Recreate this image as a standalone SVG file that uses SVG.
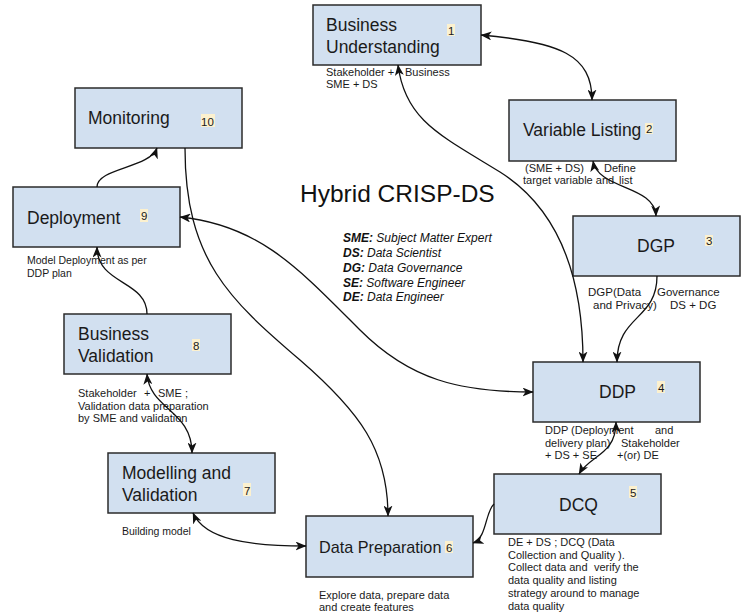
<svg xmlns="http://www.w3.org/2000/svg" width="744" height="615" viewBox="0 0 744 615">
<style>
.box{fill:#d2e0f0;stroke:#2b2b2b;stroke-width:1.5}
.t{font-family:"Liberation Sans",Arial,sans-serif;font-size:17.5px;fill:#1a1a1a}
.l{font-family:"Liberation Sans",Arial,sans-serif;font-size:11px;fill:#1a1a1a}
.n{font-family:"Liberation Sans",Arial,sans-serif;font-size:11.5px;fill:#1a1a1a}
.hl{fill:#fcf1cf}
.c{fill:none;stroke:#111;stroke-width:1.3}
.lg{font-family:"Liberation Sans",Arial,sans-serif;font-size:12px;font-style:italic;fill:#111}
</style>
<defs>
<marker id="ah" viewBox="0 0 11 9" markerWidth="11" markerHeight="9" refX="10.5" refY="4.5" orient="auto-start-reverse" markerUnits="userSpaceOnUse">
<path d="M0,0 L11,4.5 L0,9 L3,4.5 z" fill="#111"/>
</marker>
</defs>
<rect width="744" height="615" fill="#fff"/>

<g id="title">
<text x="300" y="202" style="font-family:'Liberation Sans',Arial,sans-serif;font-size:24.5px" fill="#111">Hybrid CRISP-DS</text>
</g>
<g id="legend">
<text class="lg" x="343" y="242"><tspan font-weight="bold">SME:</tspan> Subject Matter Expert</text>
<text class="lg" x="343" y="257"><tspan font-weight="bold">DS:</tspan> Data Scientist</text>
<text class="lg" x="343" y="272"><tspan font-weight="bold">DG:</tspan> Data Governance</text>
<text class="lg" x="343" y="287"><tspan font-weight="bold">SE:</tspan> Software Engineer</text>
<text class="lg" x="343" y="301"><tspan font-weight="bold">DE:</tspan> Data Engineer</text>
</g>

<g id="node1">
<rect class="box" x="313" y="5" width="168" height="60"/>
<text class="t" x="326" y="31">Business</text>
<text class="t" x="326" y="53">Understanding</text>
<rect class="hl" x="447" y="24" width="8" height="12"/>
<text class="n" x="448" y="35">1</text>
<text class="l" x="326" y="76">Stakeholder +<tspan x="405">Business</tspan></text>
<text class="l" x="326" y="88">SME + DS</text>
</g>

<g id="node2">
<rect class="box" x="509" y="100" width="167" height="61"/>
<text class="t" x="523" y="136">Variable Listing</text>
<rect class="hl" x="645" y="123" width="8" height="11"/>
<text class="n" x="646" y="133">2</text>
<text class="l" x="525" y="172">(SME + DS)<tspan x="604">Define</tspan></text>
<text class="l" x="523" y="184">target variable and<tspan x="619">list</tspan></text>
</g>

<g id="node3">
<rect class="box" x="573" y="216" width="167" height="60"/>
<text class="t" x="637" y="252">DGP</text>
<rect class="hl" x="705" y="235" width="8" height="11"/>
<text class="n" x="706" y="245">3</text>
<text class="l" x="588" y="296" style="font-size:11.5px">DGP(Data<tspan x="657">Governance</tspan></text>
<text class="l" x="593" y="309" style="font-size:11.5px">and Privacy)<tspan x="670">DS + DG</tspan></text>
</g>

<g id="node4">
<rect class="box" x="533" y="362" width="167" height="60"/>
<text class="t" x="599" y="398">DDP</text>
<rect class="hl" x="657" y="381" width="8" height="12"/>
<text class="n" x="658" y="392">4</text>
<text class="l" x="545" y="434">DDP (Deployment<tspan x="655">and</tspan></text>
<text class="l" x="545" y="447">delivery plan)<tspan x="621">Stakeholder</tspan></text>
<text class="l" x="545" y="459">+ DS + SE<tspan x="617">+(or) DE</tspan></text>
</g>

<g id="node5">
<rect class="box" x="494" y="474" width="167" height="60"/>
<text class="t" x="559" y="511">DCQ</text>
<rect class="hl" x="629" y="486" width="8" height="12"/>
<text class="n" x="630" y="497">5</text>
<text class="l" x="508" y="546">DE + DS ; DCQ (Data</text>
<text class="l" x="508" y="559">Collection and Quality ).</text>
<text class="l" x="508" y="571">Collect data and<tspan x="594">verify the</tspan></text>
<text class="l" x="508" y="584">data quality and listing</text>
<text class="l" x="508" y="597">strategy around to manage</text>
<text class="l" x="508" y="610">data quality</text>
</g>

<g id="node6">
<rect class="box" x="306" y="516" width="167" height="61"/>
<text class="t" x="319" y="553" style="font-size:16.2px">Data Preparation</text>
<rect class="hl" x="445" y="541" width="8" height="12"/>
<text class="n" x="446" y="552">6</text>
<text class="l" x="319" y="599">Explore data, prepare data</text>
<text class="l" x="319" y="611">and create features</text>
</g>

<g id="node7">
<rect class="box" x="108" y="453" width="167" height="60"/>
<text class="t" x="122" y="479">Modelling and</text>
<text class="t" x="122" y="501">Validation</text>
<rect class="hl" x="243" y="483" width="8" height="13"/>
<text class="n" x="244" y="495">7</text>
<text class="l" x="122" y="535" style="font-size:10.5px">Building model</text>
</g>

<g id="node8">
<rect class="box" x="64" y="314" width="167" height="60"/>
<text class="t" x="78" y="340">Business</text>
<text class="t" x="78" y="362">Validation</text>
<rect class="hl" x="192" y="339" width="8" height="12"/>
<text class="n" x="193" y="350">8</text>
<text class="l" x="78" y="397">Stakeholder<tspan x="144">+</tspan><tspan x="158">SME ;</tspan></text>
<text class="l" x="78" y="410">Validation data preparation</text>
<text class="l" x="78" y="422">by SME and validation</text>
</g>

<g id="node9">
<rect class="box" x="13" y="187" width="167" height="60"/>
<text class="t" x="27" y="224">Deployment</text>
<rect class="hl" x="140" y="209" width="8" height="13"/>
<text class="n" x="141" y="220">9</text>
<text class="l" x="27" y="264" style="font-size:10.5px">Model Deployment as per</text>
<text class="l" x="27" y="277" style="font-size:10.5px">DDP plan</text>
</g>

<g id="node10">
<rect class="box" x="75" y="88" width="167" height="60"/>
<text class="t" x="88" y="124">Monitoring</text>
<rect class="hl" x="201" y="114" width="14" height="13"/>
<text class="n" x="201" y="126">10</text>
</g>

<g id="connectors">
<path class="c" d="M 481 35 C 560 42, 592 55, 592 100" marker-start="url(#ah)" marker-end="url(#ah)"/>
<path class="c" d="M 593 161 C 598 190, 655 185, 656 216" marker-start="url(#ah)" marker-end="url(#ah)"/>
<path class="c" d="M 657 276 C 657 320, 617 315, 617 362" marker-end="url(#ah)"/>
<path class="c" d="M 398 65 C 405 120, 440 135, 500 172 C 560 210, 583 280, 583 362" marker-start="url(#ah)" marker-end="url(#ah)"/>
<path class="c" d="M 616 422 C 616 455, 590 455, 579 474" marker-start="url(#ah)" marker-end="url(#ah)"/>
<path class="c" d="M 494 504 C 485 512, 487 538, 473 543" marker-end="url(#ah)"/>
<path class="c" d="M 185 148 C 185 260, 230 300, 300 360 C 360 412, 388 450, 388 516" marker-end="url(#ah)"/>
<path class="c" d="M 180 217 C 260 225, 300 270, 360 330 C 410 380, 460 392, 533 392" marker-start="url(#ah)" marker-end="url(#ah)"/>
<path class="c" d="M 193 513 C 205 540, 250 546, 306 546" marker-start="url(#ah)" marker-end="url(#ah)"/>
<path class="c" d="M 147 374 C 150 410, 192 410, 192 453" marker-start="url(#ah)" marker-end="url(#ah)"/>
<path class="c" d="M 147 314 C 147 280, 97 285, 97 247" marker-end="url(#ah)"/>
<path class="c" d="M 97 187 C 97 168, 150 168, 157 148" marker-end="url(#ah)"/>
</g>
</svg>
